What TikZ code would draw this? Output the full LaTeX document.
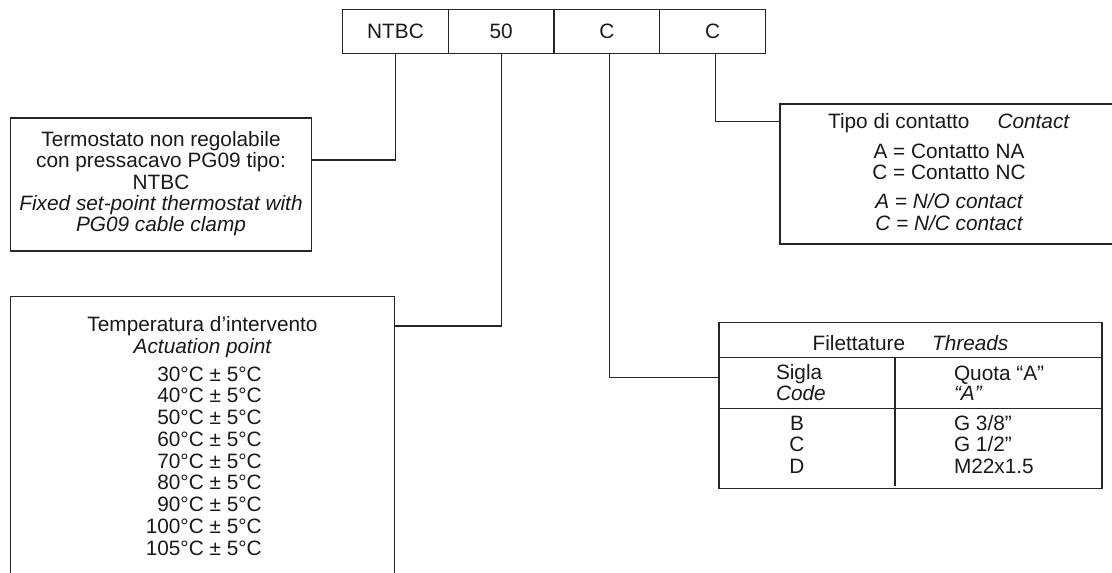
\documentclass[tikz,border=0pt]{standalone}
\usepackage{fontspec}
\setmainfont{Liberation Sans}
\usetikzlibrary{calc}
\begin{document}
\begin{tikzpicture}[x=1pt,y=-1pt,
  font=\fontsize{20.8}{21.5}\selectfont,
  frame/.style={draw=black!85, line width=1.3pt, inner sep=0pt, outer sep=0pt},
  codebox/.style={frame, minimum width=105.7pt, minimum height=44pt, text=black!90},
  infobox/.style={frame, anchor=north west},
  wire/.style={draw=black!85, line width=1.3pt},
  txt/.style={inner sep=0pt, outer sep=0pt, text=black!90, anchor=base},
  txtl/.style={txt, anchor=base west},
  txtr/.style={txt, anchor=base east}]
\useasboundingbox (0,0) rectangle (1112,573);

% product code
\node[codebox] (c1) at (395.5,31.3) {NTBC};
\node[codebox, anchor=west] (c2) at (c1.east) {50};
\node[codebox, anchor=west] (c3) at (c2.east) {C};
\node[codebox, anchor=west] (c4) at (c3.east) {C};

% description boxes
\node[infobox, minimum width=301pt, minimum height=133pt] (b1) at (10.7,118) {};
\node[infobox, minimum width=383.6pt, minimum height=300pt] (b2) at (10.7,296.7) {};
\node[infobox, draw=none, minimum width=345pt, minimum height=140pt] (b3) at (780,104) {};
\node[infobox, minimum width=383pt, minimum height=165.6pt] (b4) at (719,322.7) {};

% the contact box runs on past the right margin
\draw[wire] (b3.north east) -- (b3.north west) -- (b3.south west) -- (b3.south east);

% connectors
\draw[wire] (c1.south) |- ($(b1.north east)+(0,42)$);
\draw[wire] (c2.south) |- ($(b2.north east)+(0,29.3)$);
\draw[wire] ([xshift=2.7pt]c3.south) |- ($(b4.north west)+(0,54.6)$);
\draw[wire] ([xshift=3pt]c4.south) |- ($(b3.north west)+(0,17.7)$);

% thread table rules
\draw[wire] ($(b4.north west)+(0,34.6)$) -- ($(b4.north east)+(0,34.6)$);
\draw[wire] ($(b4.north west)+(0,85.6)$) -- ($(b4.north east)+(0,85.6)$);
\draw[wire] ($(b4.north west)+(176,34.6)$) -- ($(b4.north west)+(176,163.3)$);

% thermostat type
\node[txt] (t11) at (161,146.7) {Termostato non regolabile};
\node[txt] (t12) at (161,167.9) {con pressacavo PG09 tipo:};
\node[txt] (t13) at (161,189.2) {NTBC};
\node[txt] (t14) at (161,210.4) {\itshape Fixed set-point thermostat with};
\node[txt] (t15) at (161,231.7) {\itshape PG09 cable clamp};

% actuation temperature
\node[txt] (t21) at (202.5,331.7) {Temperatura d’intervento};
\node[txt] (t22) at (202.5,353.3) {\itshape Actuation point};
\foreach \t [count=\i from 0] in {30,40,50,60,70,80,90,100,105}
  \node[txtr] (temp\i) at (261.7,381+21.75*\i) {\t°C ± 5°C};

% contact type
\node[txt] (t31) at (949,128.3) {Tipo di contatto\hspace{28pt}\textit{Contact}};
\node[txt] (t32) at (949,158.3) {A = Contatto NA};
\node[txt] (t33) at (949,179.3) {C = Contatto NC};
\node[txt] (t34) at (949,208.3) {\itshape A = N/O contact};
\node[txt] (t35) at (949,230) {\itshape C = N/C contact};

% threads
\node[txt] (t41) at (910.5,350) {Filettature\hspace{27pt}\textit{Threads}};
\node[txtl] (t42) at (776,379.5) {Sigla};
\node[txtl] (t43) at (776,400.5) {\itshape Code};
\node[txtl] (t44) at (954,380) {Quota “A”};
\node[txtl] (t45) at (954,400.5) {\itshape “A”};
\foreach \c/\g [count=\i from 0] in {B/G 3\slash 8”, C/G 1\slash 2”, D/M22x1.5} {
  \node[txt] (code\i) at (797,430+21.65*\i) {\c};
  \node[txtl] (thr\i) at (954,430+21.65*\i) {\g};
}
\end{tikzpicture}
\end{document}
